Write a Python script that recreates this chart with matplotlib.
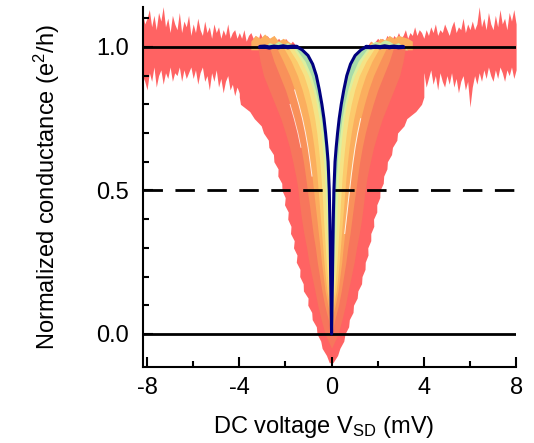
import numpy as np
import matplotlib.pyplot as plt

plt.rcParams['font.family'] = 'Liberation Sans'
plt.rcParams['mathtext.fontset'] = 'custom'
plt.rcParams['mathtext.rm'] = 'Liberation Sans'
plt.rcParams['mathtext.it'] = 'Liberation Sans:italic'
plt.rcParams['axes.unicode_minus'] = False

# outermost (noisiest) trace: edges of the dip (mV) read every 0.025 e^2/h
red_g = np.round(np.arange(-0.1, 1.001, 0.025), 3)
w_red_left = np.array([0.10, 0.22, 0.41, 0.47, 0.63, 0.66, 0.84, 0.86, 1.03, 1.02, 1.22, 1.23,
                       1.38, 1.37, 1.53, 1.50, 1.65, 1.62, 1.78, 1.76, 1.90, 1.88, 2.04, 2.01,
                       2.15, 2.16, 2.33, 2.32, 2.50, 2.52, 2.72, 2.74, 2.95, 3.05, 3.35, 3.55,
                       3.95, 4.0, 4.0, 4.0, 4.0, 4.0, 4.0, 4.0, 4.0])
w_red_right = np.array([0.06, 0.26, 0.36, 0.53, 0.58, 0.74, 0.77, 0.93, 0.95, 1.11, 1.14, 1.30,
                        1.32, 1.45, 1.46, 1.58, 1.57, 1.70, 1.70, 1.83, 1.82, 1.96, 1.96, 2.09,
                        2.10, 2.24, 2.26, 2.40, 2.42, 2.60, 2.64, 2.83, 2.86, 3.14, 3.26, 3.65,
                        3.90, 4.0, 4.0, 4.0, 4.0, 4.0, 4.0, 4.0, 4.0])

# half-widths of the inner traces (mV), outer -> inner
g_levels = np.array([-0.10, -0.05, 0.00, 0.05, 0.10, 0.15, 0.20, 0.25, 0.30, 0.35, 0.40, 0.45,
                     0.50, 0.55, 0.60, 0.65, 0.70, 0.75, 0.80, 0.85, 0.90, 0.95, 1.00])
w_salmon = np.array([0, 0, 0.28, 0.45, 0.60, 0.72, 0.85, 0.98, 1.08, 1.20, 1.30, 1.38,
                     1.45, 1.55, 1.68, 1.82, 2.00, 2.20, 2.45, 2.70, 2.95, 3.10, 3.20])
w_orangered = np.array([0, 0, 0, 0.14, 0.30, 0.42, 0.52, 0.62, 0.70, 0.80, 0.88, 0.96,
                        1.05, 1.13, 1.22, 1.33, 1.46, 1.62, 1.80, 2.00, 2.25, 2.50, 2.70])
w_orange = np.array([0, 0, 0, 0, 0.16, 0.28, 0.36, 0.44, 0.50, 0.57, 0.64, 0.71,
                     0.78, 0.85, 0.93, 1.02, 1.13, 1.26, 1.42, 1.60, 1.82, 2.10, 2.40])
w_lorange = np.array([0, 0, 0, 0, 0.08, 0.20, 0.27, 0.33, 0.38, 0.43, 0.48, 0.53,
                      0.58, 0.63, 0.69, 0.76, 0.85, 0.96, 1.10, 1.27, 1.48, 1.75, 2.10])
w_yellow = np.array([0, 0, 0, 0, 0, 0.12, 0.18, 0.23, 0.27, 0.31, 0.35, 0.38,
                     0.42, 0.46, 0.51, 0.57, 0.64, 0.73, 0.85, 1.00, 1.20, 1.50, 1.90])
w_palegreen = np.array([0, 0, 0, 0, 0, 0.07, 0.11, 0.14, 0.17, 0.20, 0.23, 0.25,
                        0.28, 0.31, 0.35, 0.40, 0.46, 0.54, 0.65, 0.80, 1.00, 1.30, 1.70])
w_green = np.array([0, 0, 0, 0, 0, 0.04, 0.07, 0.09, 0.11, 0.13, 0.15, 0.16,
                    0.18, 0.21, 0.25, 0.30, 0.37, 0.45, 0.56, 0.70, 0.88, 1.15, 1.60])

# narrowest trace (navy)
navy_g = np.array([0.00, 0.05, 0.10, 0.20, 0.30, 0.40, 0.50, 0.60, 0.65, 0.70, 0.75, 0.80,
                   0.85, 0.90, 0.94, 0.97, 0.99, 1.00])
navy_w = np.array([0.00, 0.01, 0.02, 0.04, 0.055, 0.075, 0.10, 0.15, 0.20, 0.26, 0.33, 0.42,
                   0.53, 0.66, 0.82, 1.02, 1.28, 1.50])
navy_flat_v = np.array([1.5, 1.7, 1.9, 2.1, 2.3, 2.5, 2.7, 2.9, 3.1])
navy_flat_left = np.array([1.000, 1.001, 0.999, 1.002, 0.999, 1.001, 0.998, 1.001, 1.000])
navy_flat_right = np.array([1.000, 0.999, 1.001, 0.999, 1.002, 0.999, 1.001, 0.999, 1.000])

# noisy plateau of the outer traces, V < 0 and V > 0 (read every 0.1 mV)
v_left = np.round(np.arange(-8.2, -1.59, 0.1), 1)
hi_left = [1.12, 1.08,
           1.10, 1.13, 1.07, 1.11, 1.06, 1.12, 1.09, 1.14, 1.07, 1.10,
           1.05, 1.11, 1.08, 1.06, 1.12, 1.05, 1.09, 1.07, 1.11, 1.04,
           1.08, 1.05, 1.10, 1.06, 1.04, 1.09, 1.05, 1.07, 1.03, 1.08,
           1.05, 1.07, 1.03, 1.06, 1.04, 1.08, 1.03, 1.05, 1.06, 1.03,
           1.05, 1.03, 1.06, 1.02, 1.04, 1.05, 1.03, 1.04, 1.02, 1.05,
           1.03, 1.02, 1.04, 1.03, 1.02, 1.04, 1.02, 1.03, 1.02, 1.01,
           1.03, 1.02, 1.01, 1.02, 1.01]
lo_left = [0.90, 0.88,
           0.85, 0.91, 0.88, 0.93, 0.86, 0.90, 0.92, 0.87, 0.91, 0.89,
           0.93, 0.88, 0.91, 0.90, 0.93, 0.88, 0.92, 0.89, 0.91, 0.93,
           0.89, 0.92, 0.87, 0.91, 0.93, 0.88, 0.90, 0.85, 0.91, 0.88,
           0.92, 0.86, 0.89, 0.84, 0.88, 0.90, 0.85, 0.87, 0.83, 0.86,
           0.84, 0.80, 0.85, 0.82, 0.78, 0.83, 0.79, 0.81, 0.76, 0.78,
           0.74, 0.76, 0.75, 0.75, 0.75, 0.75, 0.75, 0.75, 0.75, 0.75,
           0.78, 0.80, 0.82, 0.85, 0.88]
v_right = np.round(np.arange(1.6, 8.01, 0.1), 1)
hi_right = [1.01, 1.02, 1.01, 1.02, 1.03,
            1.02, 1.03, 1.02, 1.04, 1.03, 1.02, 1.04, 1.03, 1.05, 1.03,
            1.04, 1.06, 1.03, 1.05, 1.04, 1.07, 1.04, 1.06, 1.05, 1.03,
            1.06, 1.04, 1.07, 1.05, 1.08, 1.04, 1.06, 1.05, 1.08, 1.06,
            1.04, 1.07, 1.09, 1.05, 1.07, 1.06, 1.10, 1.05, 1.08, 1.06,
            1.09, 1.06, 1.08, 1.14, 1.07, 1.10, 1.06, 1.12, 1.08, 1.06,
            1.11, 1.07, 1.13, 1.08, 1.10, 1.06, 1.12, 1.09, 1.13, 1.08]
lo_right = [0.85, 0.82, 0.80, 0.78, 0.76,
            0.75, 0.75, 0.75, 0.75, 0.75, 0.75, 0.76, 0.78, 0.80, 0.77,
            0.82, 0.79, 0.84, 0.86, 0.83, 0.88, 0.85, 0.90, 0.87, 0.91,
            0.86, 0.89, 0.92, 0.87, 0.90, 0.85, 0.91, 0.88, 0.86, 0.90,
            0.87, 0.91, 0.86, 0.89, 0.84, 0.88, 0.90, 0.85, 0.88, 0.79,
            0.86, 0.90, 0.87, 0.91, 0.88, 0.92, 0.89, 0.93, 0.90, 0.88,
            0.92, 0.89, 0.93, 0.91, 0.88, 0.92, 0.90, 0.93, 0.89, 0.92]

# noise of the inner traces just above G = 1
v_top = np.array([1.5, 1.7, 1.9, 2.1, 2.3, 2.5, 2.7, 2.9, 3.1, 3.3, 3.5])
top_orange_left = [0.99, 1.01, 1.02, 1.03, 1.02, 1.04, 1.03, 1.045, 1.03, 1.04, 1.02]
top_orange_right = [0.99, 1.02, 1.01, 1.03, 1.025, 1.04, 1.03, 1.04, 1.035, 1.03, 1.02]
top_green_left = [0.99, 1.005, 1.015, 1.01, 1.02, 1.01, 1.015, 1.0, 0.99, 0.99, 0.99]
top_green_right = [0.99, 1.01, 1.02, 1.015, 1.025, 1.02, 1.01, 1.015, 1.0, 0.99, 0.99]

c_red = '#ff6363'
inner_colors = ['#f7765c', '#f9915a', '#fbae5e', '#fcca6c', '#f5e385', '#dcef9e', '#a8dcaa']
inner_widths = [w_salmon, w_orangered, w_orange, w_lorange, w_yellow, w_palegreen, w_green]
c_navy = '#00007f'

fig = plt.figure(figsize=(5.34, 4.43), dpi=100)
ax = fig.add_axes([0.268, 0.1716, 0.6985, 0.8126])

ax.fill_between(v_left, lo_left, hi_left, color=c_red, lw=0)
ax.fill_between(v_right, lo_right, hi_right, color=c_red, lw=0)
ax.fill_betweenx(red_g, -w_red_left, w_red_right, color=c_red, lw=0)

ax.fill_between(-v_top, 0.99, top_orange_left, color='#fbae5e', lw=0)
ax.fill_between(v_top, 0.99, top_orange_right, color='#fbae5e', lw=0)
ax.fill_between(-v_top, 0.99, top_green_left, color='#c8e9a4', lw=0)
ax.fill_between(v_top, 0.99, top_green_right, color='#c8e9a4', lw=0)

for w, c in zip(inner_widths, inner_colors):
    ax.fill_betweenx(g_levels, -w, w, color=c, lw=0)

# thin white gaps between neighbouring traces
ax.plot(-w_orange[13:20], g_levels[13:20], color='white', lw=0.7, alpha=0.85)
ax.plot(w_orange[9:18], g_levels[9:18], color='white', lw=0.7, alpha=0.85)
ax.plot(-w_orangered[15:19], g_levels[15:19], color='white', lw=0.6, alpha=0.8)

ax.fill_betweenx(navy_g, -navy_w, navy_w, color='white', lw=0)

ax.axhline(1.0, color='k', lw=2)
ax.axhline(0.0, color='k', lw=2)
ax.axhline(0.5, color='k', lw=2, linestyle=(0, (7, 4.5)))

navy_x = np.concatenate([-navy_w[::-1], navy_w])
navy_y = np.concatenate([navy_g[::-1], navy_g])
ax.plot(navy_x, navy_y, color=c_navy, lw=2.2, solid_joinstyle='round')
ax.plot(-navy_flat_v, navy_flat_left, color=c_navy, lw=3.0, solid_capstyle='round')
ax.plot(navy_flat_v, navy_flat_right, color=c_navy, lw=3.0, solid_capstyle='round')

ax.set_xlim(-8.17, 8.0)
ax.set_ylim(-0.115, 1.139)
ax.set_xticks([-8, -4, 0, 4, 8])
ax.set_xticks([-6, -2, 2, 6], minor=True)
ax.set_yticks([0.0, 0.5, 1.0])
ax.set_yticklabels(['0.0', '0.5', '1.0'])
ax.set_yticks([0.1, 0.2, 0.3, 0.4, 0.6, 0.7, 0.8, 0.9, 1.1], minor=True)
ax.tick_params(which='both', direction='in', width=1.5, labelsize=17)
ax.tick_params(which='major', length=7)
ax.tick_params(which='minor', length=4)
ax.tick_params(axis='x', pad=7)
ax.tick_params(axis='y', pad=10)
for s in ['top', 'right']:
    ax.spines[s].set_visible(False)
for s in ['left', 'bottom']:
    ax.spines[s].set_linewidth(1.5)

ax.set_xlabel('DC voltage V$_{\\mathrm{SD}}$ (mV)', fontsize=17)
ax.set_ylabel('Normalized conductance (e$^2$/h)', fontsize=17)
ax.xaxis.set_label_coords(0.483, -0.13)
ax.yaxis.set_label_coords(-0.217, 0.5)

fig.savefig('out.png', dpi=100)
